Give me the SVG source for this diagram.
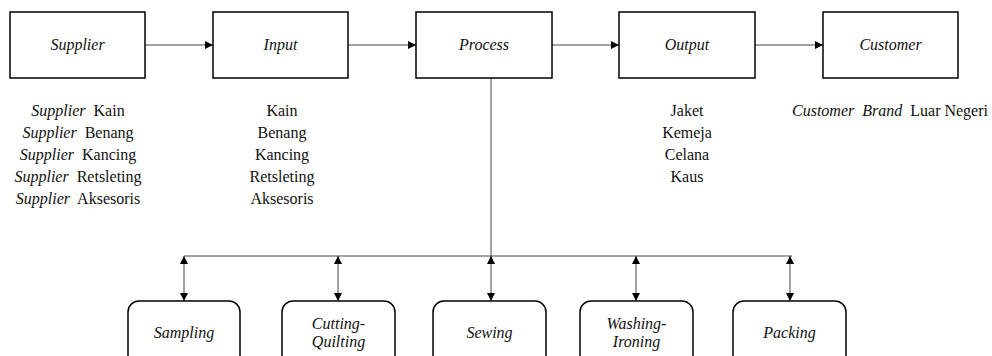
<svg xmlns="http://www.w3.org/2000/svg" width="992" height="356" viewBox="0 0 992 356">
<style>
.box{fill:#fff;stroke:#000;stroke-width:1.5}
.t{font-family:"Liberation Serif","Times New Roman",serif;font-size:16px;fill:#111;text-anchor:middle}
.i{font-style:italic}
.ws{word-spacing:4px}
.n{word-spacing:0}
.ln{stroke:#444;stroke-width:1;fill:none}
</style>
<defs>
<marker id="ah" viewBox="0 0 10 10" refX="10" refY="5" markerWidth="9" markerHeight="8" markerUnits="userSpaceOnUse" orient="auto-start-reverse">
<path d="M0,0 L10,5 L0,10 Z" fill="#000"/>
</marker>
</defs>
<rect width="992" height="356" fill="#fff"/>
<g id="connectors">
<line class="ln" x1="145" y1="45" x2="213" y2="45" marker-end="url(#ah)"/>
<line class="ln" x1="348" y1="45" x2="416" y2="45" marker-end="url(#ah)"/>
<line class="ln" x1="552" y1="45" x2="619" y2="45" marker-end="url(#ah)"/>
<line class="ln" x1="755" y1="45" x2="823" y2="45" marker-end="url(#ah)"/>
<line class="ln" x1="491" y1="78" x2="491" y2="256"/>
<line class="ln" x1="184" y1="256" x2="792" y2="256"/>
<line class="ln" x1="184" y1="256" x2="184" y2="301" marker-start="url(#ah)" marker-end="url(#ah)"/>
<line class="ln" x1="338" y1="256" x2="338" y2="301" marker-start="url(#ah)" marker-end="url(#ah)"/>
<line class="ln" x1="491" y1="256" x2="491" y2="301" marker-start="url(#ah)" marker-end="url(#ah)"/>
<line class="ln" x1="636" y1="256" x2="636" y2="301" marker-start="url(#ah)" marker-end="url(#ah)"/>
<line class="ln" x1="790" y1="256" x2="790" y2="301" marker-start="url(#ah)" marker-end="url(#ah)"/>
</g>
<g id="supplier"><rect class="box" x="10" y="12" width="135" height="66"/><text class="t i" x="77.5" y="50">Supplier</text></g>
<g id="input"><rect class="box" x="213" y="12" width="135" height="66"/><text class="t i" x="280.5" y="50">Input</text></g>
<g id="process"><rect class="box" x="416" y="12" width="136" height="66"/><text class="t i" x="484" y="50">Process</text></g>
<g id="output"><rect class="box" x="619" y="12" width="136" height="66"/><text class="t i" x="687" y="50">Output</text></g>
<g id="customer"><rect class="box" x="823" y="12" width="135" height="66"/><text class="t i" x="890.5" y="50">Customer</text></g>
<g id="supplier-list">
<text class="t ws" x="78" y="116"><tspan class="i">Supplier</tspan> Kain</text>
<text class="t ws" x="78" y="138"><tspan class="i">Supplier</tspan> Benang</text>
<text class="t ws" x="78" y="160"><tspan class="i">Supplier</tspan> Kancing</text>
<text class="t ws" x="78" y="182"><tspan class="i">Supplier</tspan> Retsleting</text>
<text class="t ws" x="78" y="204"><tspan class="i">Supplier</tspan> Aksesoris</text>
</g>
<g id="input-list">
<text class="t" x="282" y="116">Kain</text>
<text class="t" x="282" y="138">Benang</text>
<text class="t" x="282" y="160">Kancing</text>
<text class="t" x="282" y="182">Retsleting</text>
<text class="t" x="282" y="204">Aksesoris</text>
</g>
<g id="output-list">
<text class="t" x="687" y="116">Jaket</text>
<text class="t" x="687" y="138">Kemeja</text>
<text class="t" x="687" y="160">Celana</text>
<text class="t" x="687" y="182">Kaus</text>
</g>
<g id="customer-list">
<text class="t ws" x="890" y="116"><tspan class="i">Customer</tspan> <tspan class="i">Brand</tspan> <tspan class="n">Luar Negeri</tspan></text>
</g>
<g id="sampling"><rect class="box" x="128" y="301" width="112" height="80" rx="11"/><text class="t i" x="184" y="338">Sampling</text></g>
<g id="cutting"><rect class="box" x="282" y="301" width="113" height="80" rx="11"/><text class="t i" x="338.5" y="329">Cutting-</text><text class="t i" x="338.5" y="347">Quilting</text></g>
<g id="sewing"><rect class="box" x="433" y="301" width="113" height="80" rx="11"/><text class="t i" x="489.5" y="338">Sewing</text></g>
<g id="washing"><rect class="box" x="580" y="301" width="113" height="80" rx="11"/><text class="t i" x="636.5" y="329">Washing-</text><text class="t i" x="636.5" y="347">Ironing</text></g>
<g id="packing"><rect class="box" x="733" y="301" width="113" height="80" rx="11"/><text class="t i" x="789.5" y="338">Packing</text></g>
</svg>
